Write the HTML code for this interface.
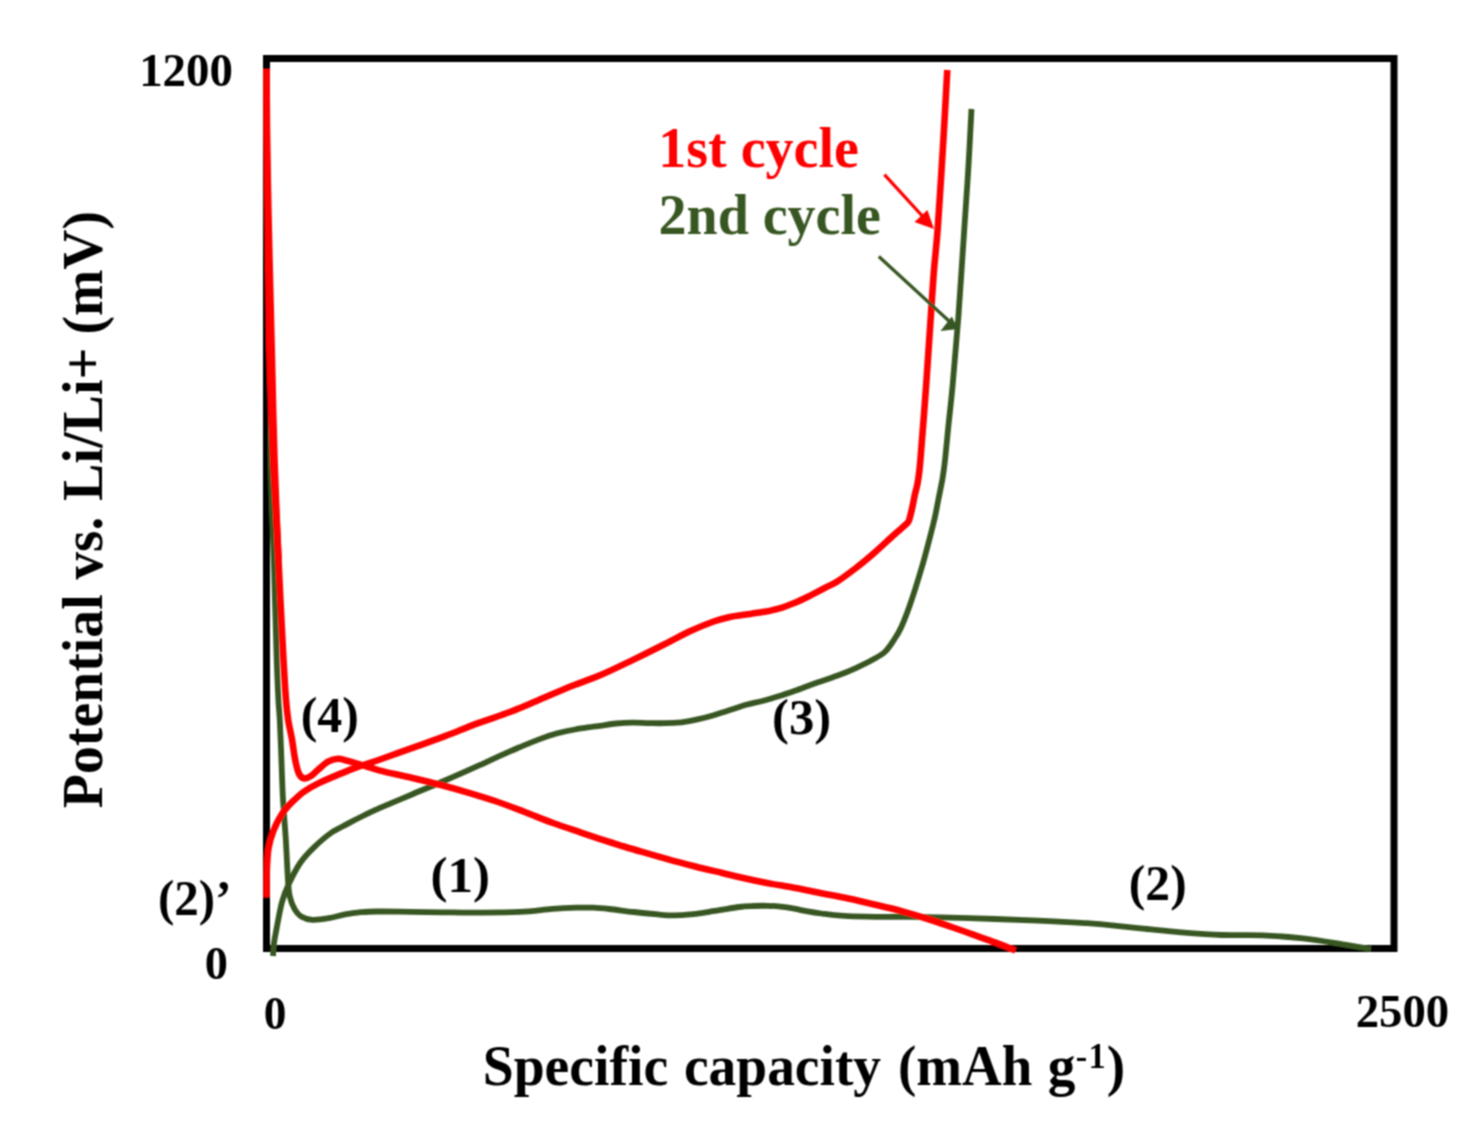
<!DOCTYPE html>
<html>
<head>
<meta charset="utf-8">
<title>Potential vs. specific capacity</title>
<style>
  html, body { margin: 0; padding: 0; background: #ffffff; }
  body { width: 1478px; height: 1133px; overflow: hidden; }
  svg { display: block; }
  text { font-family: "Liberation Serif", serif; font-weight: bold; fill: #000000; }
</style>
</head>
<body>
<svg width="1478" height="1133" viewBox="0 0 1478 1133">
  <defs>
    <filter id="soft" x="0" y="0" width="1478" height="1133" filterUnits="userSpaceOnUse">
      <feConvolveMatrix order="3" kernelMatrix="1 2 1 2 4 2 1 2 1" divisor="16" edgeMode="duplicate" preserveAlpha="false"/>
    </filter>
  </defs>
  <rect x="0" y="0" width="1478" height="1133" fill="#ffffff"/>
  <g filter="url(#soft)">

  <!-- plot frame -->
  <rect x="266.5" y="58.5" width="1127.5" height="890" fill="none" stroke="#000000" stroke-width="7"/>

  <!-- curves -->
  <g fill="none" stroke-linecap="butt" stroke-linejoin="round">
    <path d="M272.0 370.0 C271.8 378.3 271.0 405.0 270.8 420.0 C270.6 435.0 270.6 445.0 270.8 460.0 C271.0 475.0 271.5 493.3 272.0 510.0 C272.5 526.7 273.0 535.0 273.8 560.0 C274.6 585.0 275.9 636.7 276.7 660.0 C277.5 683.3 277.9 690.0 278.4 700.0 C278.9 710.0 279.3 710.2 279.8 720.0 C280.3 729.8 280.9 745.8 281.4 758.8 C281.9 771.8 282.2 784.6 282.9 797.7 C283.6 810.9 284.8 824.0 285.7 837.7 C286.6 851.4 287.3 870.2 288.0 880.0 C288.7 889.8 288.6 891.3 289.7 896.2 C290.8 901.1 292.7 905.8 294.6 909.2 C296.5 912.6 298.1 914.7 301.1 916.5 C304.1 918.3 307.9 919.5 312.5 919.8 C317.1 920.1 323.3 919.1 328.7 918.2 C334.1 917.3 339.6 915.4 345.0 914.4 C350.4 913.4 355.8 912.7 361.2 912.2 C366.6 911.7 369.3 911.6 377.4 911.5 C385.5 911.4 399.1 911.7 409.9 911.8 C420.7 911.9 431.6 912.2 442.4 912.3 C453.2 912.4 462.0 912.7 474.9 912.6 C487.8 912.5 507.1 912.5 520.0 911.9 C532.9 911.3 543.0 909.6 552.5 908.9 C562.0 908.2 570.0 907.9 576.8 907.7 C583.6 907.5 587.7 907.5 593.1 907.7 C598.5 907.9 602.5 908.3 609.3 909.0 C616.1 909.7 625.6 911.1 633.7 912.0 C641.8 912.9 651.2 913.8 658.0 914.4 C664.8 915.0 668.9 915.4 674.3 915.4 C679.7 915.4 683.7 915.1 690.5 914.4 C697.3 913.6 706.8 912.1 714.9 910.9 C723.0 909.7 732.8 907.8 739.2 907.0 C745.6 906.2 748.9 906.2 753.5 906.0 C758.1 905.8 762.5 905.7 767.0 905.8 C771.5 905.9 776.1 906.2 780.6 906.7 C785.1 907.2 789.6 907.9 794.1 908.7 C798.6 909.5 803.2 910.6 807.7 911.4 C812.2 912.2 816.7 912.9 821.2 913.5 C825.7 914.1 830.2 914.8 834.7 915.2 C839.2 915.7 841.5 915.9 848.3 916.2 C855.1 916.5 866.3 916.7 875.3 916.8 C884.3 916.9 891.6 916.7 902.4 916.8 C913.2 916.9 924.6 916.9 940.0 917.3 C955.4 917.7 978.5 918.4 994.9 919.0 C1011.3 919.6 1023.8 920.1 1038.2 920.7 C1052.6 921.4 1071.2 922.3 1081.5 922.9 C1091.8 923.5 1090.2 923.3 1100.0 924.2 C1109.8 925.1 1127.1 926.9 1140.6 928.3 C1154.1 929.6 1167.7 931.2 1181.2 932.3 C1194.7 933.4 1208.3 934.5 1221.8 935.0 C1235.3 935.5 1248.9 934.7 1262.4 935.3 C1275.9 935.9 1289.5 936.9 1303.0 938.4 C1316.5 939.9 1332.3 942.7 1343.6 944.5 C1354.9 946.3 1366.4 948.2 1371.0 949.0" stroke="#375623" stroke-width="5.8"/>
    <path d="M273.0 956.0 C273.2 953.8 273.4 947.4 274.0 943.0 C274.6 938.6 275.1 936.4 276.4 929.6 C277.7 922.8 279.9 909.7 282.0 902.0 C284.1 894.3 285.9 890.2 289.0 883.6 C292.1 877.0 296.3 868.5 300.5 862.5 C304.7 856.4 308.9 852.2 314.0 847.3 C319.1 842.4 325.4 836.9 330.9 833.0 C336.4 829.2 341.4 827.2 347.0 824.1 C352.6 821.1 359.3 817.7 364.8 815.0 C370.3 812.3 372.1 811.4 380.0 807.9 C387.9 804.5 401.7 798.7 412.5 794.2 C423.3 789.6 434.2 785.2 445.0 780.5 C455.8 775.9 466.6 771.1 477.4 766.2 C488.2 761.3 499.1 756.1 509.9 751.4 C520.7 746.7 534.3 741.1 542.4 738.1 C550.5 735.0 553.2 734.5 558.6 733.0 C564.0 731.6 569.5 730.5 574.9 729.5 C580.3 728.5 586.9 727.6 591.1 727.0 C595.3 726.4 595.8 726.5 600.0 725.9 C604.2 725.3 610.8 724.0 616.2 723.5 C621.6 723.0 627.1 722.7 632.5 722.7 C637.9 722.6 643.3 723.0 648.7 723.1 C654.1 723.2 659.6 723.4 665.0 723.2 C670.4 723.1 675.8 722.9 681.2 722.3 C686.6 721.6 692.0 720.6 697.4 719.4 C702.8 718.2 708.3 716.8 713.7 715.2 C719.1 713.6 724.5 711.8 729.9 710.0 C735.3 708.3 740.8 706.4 746.2 704.8 C751.6 703.3 757.0 702.4 762.4 701.0 C767.8 699.6 773.2 698.0 778.6 696.3 C784.0 694.6 789.5 692.7 794.9 690.8 C800.3 688.9 806.9 686.3 811.1 684.8 C815.3 683.3 815.6 683.2 820.0 681.7 C824.4 680.2 831.8 677.7 837.7 675.5 C843.6 673.3 849.4 671.0 855.3 668.3 C861.2 665.6 868.0 662.3 873.0 659.5 C878.0 656.7 881.8 654.8 885.3 651.5 C888.8 648.2 891.6 643.5 894.2 639.5 C896.9 635.5 898.9 632.2 901.2 627.2 C903.6 622.2 905.9 616.0 908.3 609.5 C910.7 603.0 913.0 595.7 915.4 588.3 C917.8 580.9 920.0 573.5 922.4 565.3 C924.8 557.1 927.4 546.8 929.5 538.9 C931.6 531.0 933.3 524.2 934.8 517.7 C936.3 511.2 937.3 504.8 938.3 500.0 C939.2 495.2 939.8 492.7 940.5 489.0 C941.2 485.3 941.9 482.5 942.6 478.0 C943.3 473.5 943.8 470.8 944.8 462.0 C945.8 453.2 947.2 437.9 948.5 425.0 C949.8 412.1 951.1 402.4 952.7 384.6 C954.3 366.8 956.4 342.7 958.3 318.0 C960.1 293.3 962.1 261.1 963.8 236.5 C965.4 211.9 966.9 191.6 968.2 170.3 C969.5 149.1 971.0 119.2 971.5 109.0" stroke="#375623" stroke-width="5.8"/>
    <path d="M266.5 897.5 C266.6 892.9 266.5 878.3 266.8 870.0 C267.1 861.8 267.4 854.7 268.5 848.1 C269.6 841.5 271.3 836.2 273.6 830.4 C275.9 824.7 279.2 818.2 282.3 813.5 C285.4 808.8 288.4 805.8 292.0 802.2 C295.6 798.6 299.3 795.0 303.7 791.8 C308.1 788.7 312.6 786.2 318.3 783.4 C324.0 780.6 331.2 777.6 337.7 774.9 C344.2 772.2 350.1 769.7 357.1 767.1 C364.2 764.5 370.8 762.7 380.0 759.5 C389.2 756.3 401.7 751.8 412.5 747.9 C423.3 744.0 434.2 740.3 445.0 736.2 C455.8 732.1 466.6 727.4 477.4 723.4 C488.2 719.4 500.1 715.7 509.9 712.0 C519.6 708.3 525.6 705.6 535.9 701.2 C546.2 696.9 561.1 690.3 571.8 686.0 C582.5 681.7 589.9 679.6 600.0 675.3 C610.1 671.0 621.7 665.3 632.5 660.1 C643.3 654.8 655.5 648.8 665.0 644.0 C674.5 639.3 681.2 635.4 689.3 631.6 C697.4 627.9 706.9 623.9 713.7 621.5 C720.5 619.1 724.5 618.2 729.9 617.0 C735.3 615.9 740.8 615.4 746.2 614.6 C751.6 613.8 757.0 613.1 762.4 612.1 C767.8 611.1 773.2 610.2 778.6 608.6 C784.0 607.0 789.5 604.9 794.9 602.7 C800.3 600.4 805.7 597.7 811.1 595.1 C816.5 592.4 822.9 589.1 827.3 586.7 C831.7 584.4 833.0 584.3 837.7 581.2 C842.4 578.2 849.4 573.0 855.3 568.5 C861.2 564.0 867.1 559.1 873.0 554.0 C878.9 549.0 885.8 542.4 890.6 538.0 C895.4 533.6 899.1 530.5 902.0 527.8 C904.9 525.1 906.8 524.2 908.2 522.0 C909.6 519.8 909.9 517.2 910.6 514.5 C911.4 511.8 912.0 508.9 912.7 505.5 C913.4 502.1 914.2 497.8 915.0 494.0 C915.8 490.2 916.7 488.7 917.6 483.0 C918.5 477.3 919.0 476.4 920.4 460.0 C921.8 443.6 924.5 408.2 926.2 384.6 C927.9 361.0 929.4 337.4 930.7 318.3 C932.0 299.2 932.8 285.1 934.0 270.0 C935.2 254.9 936.3 248.0 937.8 227.7 C939.3 207.4 941.3 174.3 942.9 148.0 C944.5 121.7 946.6 83.0 947.3 70.0" stroke="#ff0000" stroke-width="6.6"/>
    <path d="M266.5 69.0 C266.6 82.5 266.6 118.2 266.9 150.0 C267.2 181.8 267.8 228.3 268.2 260.0 C268.6 291.7 268.7 316.7 269.2 340.0 C269.7 363.3 270.3 380.0 271.0 400.0 C271.7 420.0 272.5 441.7 273.3 460.0 C274.1 478.3 275.1 493.3 276.0 510.0 C276.9 526.7 278.1 551.7 278.5 560.0" stroke="#ff0000" stroke-width="6.6"/>
    <path d="M266.5 69.0 C266.6 82.5 266.7 118.2 267.2 150.0 C267.7 181.8 268.7 225.0 269.5 260.0 C270.3 295.0 271.2 326.7 272.0 360.0 C272.8 393.3 273.4 426.7 274.5 460.0 C275.6 493.3 277.0 526.7 278.5 560.0 C280.0 593.3 282.2 636.7 283.5 660.0 C284.8 683.3 285.2 690.0 286.0 700.0 C286.8 710.0 287.2 713.4 288.2 720.0 C289.2 726.6 290.9 732.9 292.0 739.4 C293.1 745.9 293.9 753.1 295.0 758.8 C296.1 764.5 297.4 770.1 298.8 773.4 C300.2 776.6 301.8 777.8 303.7 778.3 C305.6 778.8 308.1 777.8 310.5 776.3 C312.9 774.8 315.4 771.9 318.3 769.5 C321.2 767.1 324.8 763.5 328.0 761.7 C331.2 759.9 334.5 758.9 337.7 758.8 C340.9 758.6 344.2 760.0 347.4 760.8 C350.6 761.6 353.9 762.8 357.1 763.7 C360.3 764.7 363.0 765.4 366.8 766.5 C370.6 767.6 372.4 768.7 380.0 770.6 C387.6 772.5 402.5 775.6 412.5 778.0 C422.5 780.4 430.8 782.4 440.0 784.8 C449.2 787.2 458.6 789.8 468.0 792.6 C477.4 795.4 487.1 798.3 496.5 801.5 C505.9 804.7 515.3 808.4 524.7 812.0 C534.1 815.6 543.6 819.6 553.0 823.0 C562.4 826.4 572.8 829.8 581.0 832.6 C589.2 835.4 595.5 837.5 602.0 839.6 C608.5 841.7 613.5 843.3 620.0 845.3 C626.5 847.3 633.2 849.4 641.2 851.7 C649.2 854.1 659.3 856.9 668.3 859.4 C677.3 861.9 686.3 864.2 695.3 866.5 C704.3 868.8 714.9 871.2 722.4 873.0 C729.9 874.8 732.6 875.5 740.0 877.2 C747.4 878.9 758.0 881.2 767.0 883.0 C776.0 884.8 785.1 886.0 794.1 887.7 C803.1 889.4 812.2 891.4 821.2 893.2 C830.2 895.0 839.3 896.7 848.3 898.6 C857.3 900.5 866.3 902.6 875.3 904.7 C884.3 906.8 893.4 908.9 902.4 911.4 C911.4 913.9 921.3 916.9 929.5 919.5 C937.7 922.1 944.3 924.5 951.6 927.0 C958.9 929.5 966.0 932.0 973.2 934.6 C980.4 937.2 987.9 939.8 994.9 942.4 C1001.9 945.0 1012.1 949.1 1015.5 950.5" stroke="#ff0000" stroke-width="6.6"/>
  </g>

  <!-- arrows -->
  <g stroke-linecap="butt">
    <line x1="884.4" y1="174.7" x2="926" y2="220" stroke="#ff0000" stroke-width="3.3"/>
    <polygon points="934,229 927.4,210 914.5,222" fill="#ff0000"/>
    <line x1="878.8" y1="256.5" x2="949" y2="321" stroke="#375623" stroke-width="3.3"/>
    <polygon points="958,329 951.8,316.5 940.5,331" fill="#375623"/>
  </g>

  <!-- tick labels -->
  <text transform="translate(139.15 85.60) scale(0.9980 1)" font-size="47">1200</text>
  <text transform="translate(204.86 979.40) scale(1.0077 1)" font-size="46">0</text>
  <text transform="translate(263.70 1029.40) scale(0.9872 1)" font-size="46">0</text>
  <text transform="translate(1355.71 1027.40) scale(0.9951 1)" font-size="47">2500</text>
  <!-- annotations -->
  <text transform="translate(300.75 732.20) scale(0.9986 1)" font-size="50">(4)</text>
  <text transform="translate(430.40 891.70) scale(1.0227 1)" font-size="50">(1)</text>
  <text transform="translate(157.99 915.30) scale(0.9812 1)" font-size="50">(2)&#8217;</text>
  <text transform="translate(772.02 733.70) scale(1.0135 1)" font-size="50">(3)</text>
  <text transform="translate(1128.87 900.00) scale(0.9912 1)" font-size="50">(2)</text>
  <text transform="translate(658.22 166.60) scale(1.0005 1)" font-size="56" style="fill:#ff0000">1st cycle</text>
  <text transform="translate(658.52 233.90) scale(0.9998 1)" font-size="56" style="fill:#375623">2nd cycle</text>
  <!-- x axis title -->
  <text transform="translate(482.68 1085.00) scale(0.9596 1)" font-size="58">Specific</text>
  <text transform="translate(683.96 1085.00) scale(0.9564 1)" font-size="58">capacity</text>
  <text transform="translate(898.03 1085.00) scale(0.9466 1)" font-size="58">(mAh</text>
  <text transform="translate(1047.77 1085.00) scale(0.9550 1)" font-size="58">g</text>
  <text transform="translate(1075.65 1068.20) scale(0.9800 1)" font-size="35">-</text>
  <text transform="translate(1088.60 1068.00) scale(0.9800 1)" font-size="35">1</text>
  <text transform="translate(1106.67 1085.00) scale(0.9550 1)" font-size="58">)</text>
  <!-- y axis title -->
  <text transform="translate(102.00 808.18) rotate(-90) scale(0.9621 1)" font-size="58">Potential</text>
  <text transform="translate(102.00 579.57) rotate(-90) scale(0.9500 1)" font-size="58">vs.</text>
  <text transform="translate(102.00 501.08) rotate(-90) scale(0.9676 1)" font-size="58">Li/Li+</text>
  <text transform="translate(102.00 334.60) rotate(-90) scale(0.9597 1)" font-size="58">(mV)</text>
  </g>
</svg>
</body>
</html>
